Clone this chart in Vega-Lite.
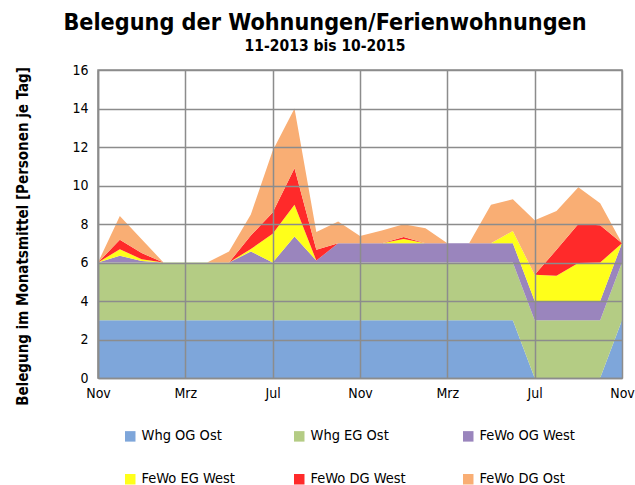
{
  "$schema": "https://vega.github.io/schema/vega-lite/v6.json",
  "width": 524,
  "height": 308,
  "autosize": {"type": "none"},
  "padding": {"left": 98, "top": 70, "right": 13, "bottom": 107},
  "background": "white",
  "title": {
    "text": "Belegung der Wohnungen/Ferienwohnungen",
    "subtitle": "11-2013 bis 10-2015",
    "anchor": "middle",
    "frame": "group",
    "dx": -35,
    "font": "DejaVu Sans Condensed",
    "fontSize": 23.2,
    "fontWeight": "bold",
    "color": "#000000",
    "subtitleFont": "DejaVu Sans Condensed",
    "subtitleFontSize": 15.5,
    "subtitleFontWeight": "bold",
    "subtitleColor": "#000000",
    "subtitlePadding": 3,
    "offset": 8
  },
  "data": {
    "values": [
      {"m": 0, "Whg OG Ost": 3, "Whg EG Ost": 3, "FeWo OG West": 0, "FeWo EG West": 0, "FeWo DG West": 0, "FeWo DG Ost": 0},
      {"m": 1, "Whg OG Ost": 3, "Whg EG Ost": 3, "FeWo OG West": 0.35, "FeWo EG West": 0.34, "FeWo DG West": 0.49, "FeWo DG Ost": 1.24},
      {"m": 2, "Whg OG Ost": 3, "Whg EG Ost": 3, "FeWo OG West": 0.08, "FeWo EG West": 0.09, "FeWo DG West": 0.32, "FeWo DG Ost": 0.72},
      {"m": 3, "Whg OG Ost": 3, "Whg EG Ost": 3, "FeWo OG West": 0, "FeWo EG West": 0, "FeWo DG West": 0, "FeWo DG Ost": 0},
      {"m": 4, "Whg OG Ost": 3, "Whg EG Ost": 3, "FeWo OG West": 0, "FeWo EG West": 0, "FeWo DG West": 0, "FeWo DG Ost": 0},
      {"m": 5, "Whg OG Ost": 3, "Whg EG Ost": 3, "FeWo OG West": 0, "FeWo EG West": 0, "FeWo DG West": 0, "FeWo DG Ost": 0},
      {"m": 6, "Whg OG Ost": 3, "Whg EG Ost": 3, "FeWo OG West": 0, "FeWo EG West": 0, "FeWo DG West": 0, "FeWo DG Ost": 0.57},
      {"m": 7, "Whg OG Ost": 3, "Whg EG Ost": 3, "FeWo OG West": 0.57, "FeWo EG West": 0.13, "FeWo DG West": 0.7, "FeWo DG Ost": 1.1},
      {"m": 8, "Whg OG Ost": 3, "Whg EG Ost": 3, "FeWo OG West": 0, "FeWo EG West": 1.5, "FeWo DG West": 1.1, "FeWo DG Ost": 3.2},
      {"m": 9, "Whg OG Ost": 3, "Whg EG Ost": 3, "FeWo OG West": 1.35, "FeWo EG West": 1.65, "FeWo DG West": 1.9, "FeWo DG Ost": 3.1},
      {"m": 10, "Whg OG Ost": 3, "Whg EG Ost": 3, "FeWo OG West": 0.1, "FeWo EG West": 0, "FeWo DG West": 0.56, "FeWo DG Ost": 0.92},
      {"m": 11, "Whg OG Ost": 3, "Whg EG Ost": 3, "FeWo OG West": 1, "FeWo EG West": 0, "FeWo DG West": 0, "FeWo DG Ost": 1.13},
      {"m": 12, "Whg OG Ost": 3, "Whg EG Ost": 3, "FeWo OG West": 1, "FeWo EG West": 0, "FeWo DG West": 0, "FeWo DG Ost": 0.38},
      {"m": 13, "Whg OG Ost": 3, "Whg EG Ost": 3, "FeWo OG West": 1, "FeWo EG West": 0, "FeWo DG West": 0, "FeWo DG Ost": 0.66},
      {"m": 14, "Whg OG Ost": 3, "Whg EG Ost": 3, "FeWo OG West": 1, "FeWo EG West": 0.22, "FeWo DG West": 0.1, "FeWo DG Ost": 0.67},
      {"m": 15, "Whg OG Ost": 3, "Whg EG Ost": 3, "FeWo OG West": 1, "FeWo EG West": 0, "FeWo DG West": 0, "FeWo DG Ost": 0.78},
      {"m": 16, "Whg OG Ost": 3, "Whg EG Ost": 3, "FeWo OG West": 1, "FeWo EG West": 0, "FeWo DG West": 0, "FeWo DG Ost": 0},
      {"m": 17, "Whg OG Ost": 3, "Whg EG Ost": 3, "FeWo OG West": 1, "FeWo EG West": 0, "FeWo DG West": 0, "FeWo DG Ost": 0},
      {"m": 18, "Whg OG Ost": 3, "Whg EG Ost": 3, "FeWo OG West": 1, "FeWo EG West": 0, "FeWo DG West": 0, "FeWo DG Ost": 2.0},
      {"m": 19, "Whg OG Ost": 3, "Whg EG Ost": 3, "FeWo OG West": 1, "FeWo EG West": 0.64, "FeWo DG West": 0, "FeWo DG Ost": 1.65},
      {"m": 20, "Whg OG Ost": 0, "Whg EG Ost": 3, "FeWo OG West": 1, "FeWo EG West": 1.36, "FeWo DG West": 0, "FeWo DG Ost": 2.84},
      {"m": 21, "Whg OG Ost": 0, "Whg EG Ost": 3, "FeWo OG West": 1, "FeWo EG West": 1.31, "FeWo DG West": 1.35, "FeWo DG Ost": 2.02},
      {"m": 22, "Whg OG Ost": 0, "Whg EG Ost": 3, "FeWo OG West": 1, "FeWo EG West": 1.97, "FeWo DG West": 2.03, "FeWo DG Ost": 1.91},
      {"m": 23, "Whg OG Ost": 0, "Whg EG Ost": 3, "FeWo OG West": 1, "FeWo EG West": 2.0, "FeWo DG West": 1.94, "FeWo DG Ost": 1.14},
      {"m": 24, "Whg OG Ost": 3, "Whg EG Ost": 3, "FeWo OG West": 1, "FeWo EG West": 0, "FeWo DG West": 0, "FeWo DG Ost": 0}
    ]
  },
  "transform": [
    {"fold": ["Whg OG Ost", "Whg EG Ost", "FeWo OG West", "FeWo EG West", "FeWo DG West", "FeWo DG Ost"], "as": ["Serie", "Wert"]}
  ],
  "mark": {"type": "area", "interpolate": "linear"},
  "encoding": {
    "x": {
      "field": "m",
      "type": "quantitative",
      "scale": {"domain": [0, 24], "nice": false, "zero": false},
      "axis": {
        "title": null,
        "values": [0, 4, 8, 12, 16, 20, 24],
        "labelExpr": "['Nov','Mrz','Jul','Nov','Mrz','Jul','Nov'][round(datum.value/4)]",
        "grid": true,
        "gridColor": "#8c8c8c",
        "gridWidth": 1.5,
        "domainColor": "#8c8c8c",
        "domainWidth": 1.5,
        "ticks": false,
        "labelFont": "DejaVu Sans Condensed",
        "labelFontSize": 14,
        "labelColor": "#000000",
        "labelPadding": 8,
        "labelFlush": false,
        "zindex": 1
      }
    },
    "y": {
      "field": "Wert",
      "type": "quantitative",
      "stack": "zero",
      "scale": {"domain": [0, 16], "nice": false},
      "axis": {
        "title": "Belegung im Monatsmittel  [Personen je Tag]",
        "titleFont": "DejaVu Sans Condensed",
        "titleFontSize": 15,
        "titleFontWeight": "bold",
        "titleColor": "#000000",
        "titleX": -68,
        "titleY": 166,
        "titleAngle": -90,
        "titleAlign": "center",
        "titleBaseline": "bottom",
        "values": [0, 2, 4, 6, 8, 10, 12, 14, 16],
        "grid": true,
        "gridColor": "#8c8c8c",
        "gridWidth": 1.5,
        "domainColor": "#8c8c8c",
        "domainWidth": 1.5,
        "ticks": false,
        "labelFont": "DejaVu Sans Condensed",
        "labelFontSize": 14,
        "labelColor": "#000000",
        "labelPadding": 10,
        "zindex": 1
      }
    },
    "color": {
      "field": "Serie",
      "type": "nominal",
      "sort": ["Whg OG Ost", "Whg EG Ost", "FeWo OG West", "FeWo EG West", "FeWo DG West", "FeWo DG Ost"],
      "scale": {
        "domain": ["Whg OG Ost", "Whg EG Ost", "FeWo OG West", "FeWo EG West", "FeWo DG West", "FeWo DG Ost"],
        "range": ["#7EA6DA", "#B4CC84", "#9A85BD", "#FFFF1A", "#FF2A2A", "#F9AE74"]
      },
      "legend": {
        "title": null,
        "orient": "none",
        "legendX": 25,
        "legendY": 359,
        "direction": "horizontal",
        "columns": 3,
        "gridAlign": "all",
        "columnPadding": 55,
        "rowPadding": 28,
        "symbolType": "square",
        "symbolSize": 110,
        "symbolStrokeWidth": 0,
        "labelFont": "DejaVu Sans Condensed",
        "labelFontSize": 14.5,
        "labelColor": "#000000",
        "labelOffset": 4,
        "labelLimit": 200
      }
    }
  },
  "config": {
    "view": {"stroke": "#8c8c8c", "strokeWidth": 1.5}
  }
}
